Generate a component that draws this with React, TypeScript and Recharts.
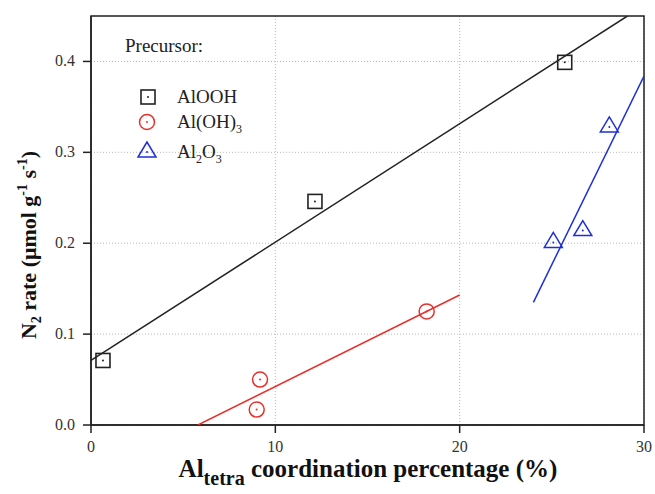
import React from "react";
import {
  ComposedChart,
  Scatter,
  XAxis,
  YAxis,
  CartesianGrid,
  ReferenceArea,
  Customized,
} from "recharts";

// Measured points per precursor
const aloohPoints = [
  { x: 0.65, y: 0.071 },
  { x: 12.15, y: 0.246 },
  { x: 25.7, y: 0.399 },
];
const aloh3Points = [
  { x: 8.99, y: 0.017 },
  { x: 9.17, y: 0.05 },
  { x: 18.21, y: 0.125 },
];
const al2o3Points = [
  { x: 25.08, y: 0.202 },
  { x: 26.68, y: 0.215 },
  { x: 28.12, y: 0.329 },
];

// Linear fits (end points)
const aloohFit = [
  { x: 0, y: 0.071 },
  { x: 29.1, y: 0.45 },
];
const aloh3Fit = [
  { x: 5.8, y: 0 },
  { x: 20, y: 0.143 },
];
const al2o3Fit = [
  { x: 24.0, y: 0.135 },
  { x: 30, y: 0.384 },
];

const xTicks = [0, 10, 20, 30];
const yTicks = [0, 0.1, 0.2, 0.3, 0.4];

const SERIF = "Liberation Serif, Times New Roman, serif";
const BLACK = "#222";
const RED = "#e8302a";
const BLUE = "#1f2fd6";

const SquareMark = (p: any) => (
  <g>
    <rect x={p.cx - 7} y={p.cy - 7} width={14} height={14} fill="none" stroke={BLACK} strokeWidth={1.6} />
    <circle cx={p.cx} cy={p.cy} r={1} fill={BLACK} />
  </g>
);
const CircleMark = (p: any) => (
  <g>
    <circle cx={p.cx} cy={p.cy} r={7.5} fill="none" stroke={RED} strokeWidth={1.5} />
    <circle cx={p.cx} cy={p.cy} r={1} fill={RED} />
  </g>
);
const TriangleMark = (p: any) => (
  <g>
    <polygon
      points={`${p.cx},${p.cy - 9} ${p.cx - 9},${p.cy + 6} ${p.cx + 9},${p.cy + 6}`}
      fill="none"
      stroke={BLUE}
      strokeWidth={1.5}
    />
    <circle cx={p.cx} cy={p.cy + 1} r={1} fill={BLUE} />
  </g>
);
const NoMark = () => <g />;

const XTick = (p: any) => (
  <text x={p.x} y={p.y + 11} textAnchor="middle" fontFamily={SERIF} fontSize={16} fill="#333">
    {p.payload.value}
  </text>
);
const YTick = (p: any) => (
  <text x={p.x} y={p.y + 5} textAnchor="end" fontFamily={SERIF} fontSize={16} fill="#333">
    {Number(p.payload.value).toFixed(1)}
  </text>
);

const Legend = () => (
  <g fontFamily={SERIF} fontSize={19} fill="#222">
    <text x={125} y={52}>Precursor:</text>
    <SquareMark cx={148} cy={97} />
    <text x={177} y={103}>AlOOH</text>
    <CircleMark cx={147} cy={122} />
    <text x={177} y={128}>
      Al(OH)<tspan fontSize={12} dy={5}>3</tspan>
    </text>
    <TriangleMark cx={147} cy={151} />
    <text x={177} y={158}>
      Al<tspan fontSize={12} dy={5}>2</tspan>
      <tspan dy={-5}>O</tspan>
      <tspan fontSize={12} dy={5}>3</tspan>
    </text>
  </g>
);

const YTitle = () => (
  <text
    transform="translate(36,245) rotate(-90)"
    textAnchor="middle"
    fontFamily={SERIF}
    fontWeight="bold"
    fontSize={22}
    fill="#111"
  >
    N<tspan fontSize={14} dy={5}>2</tspan>
    <tspan dy={-5}> rate (μmol g</tspan>
    <tspan fontSize={14} dy={-9}>-1</tspan>
    <tspan dy={9}> s</tspan>
    <tspan fontSize={14} dy={-9}>-1</tspan>
    <tspan dy={9}>)</tspan>
  </text>
);

const XTitle = () => (
  <text
    x={368}
    y={477}
    textAnchor="middle"
    fontFamily={SERIF}
    fontWeight="bold"
    fontSize={25}
    fill="#111"
  >
    Al<tspan fontSize={20} dy={8}>tetra</tspan>
    <tspan dy={-8}> coordination percentage (%)</tspan>
  </text>
);

export default function App() {
  return (
    <div style={{ position: "absolute", left: 0, top: 0, background: "#fff" }}>
      <ComposedChart
        width={655}
        height={494}
        margin={{ top: 16, right: 11, bottom: 0, left: 0 }}
      >
        <CartesianGrid stroke="#bbb" strokeDasharray="1 2" />
        <XAxis
          type="number"
          dataKey="x"
          domain={[0, 30]}
          ticks={xTicks}
          height={69}
          allowDataOverflow
          tickSize={8}
          tickLine={{ stroke: BLACK, strokeWidth: 1.5 }}
          axisLine={{ stroke: BLACK, strokeWidth: 1.5 }}
          tick={XTick}
          tickMargin={8}
        />
        <YAxis
          type="number"
          dataKey="y"
          domain={[0, 0.45]}
          ticks={yTicks}
          width={91}
          allowDataOverflow
          tickSize={8}
          tickLine={{ stroke: BLACK, strokeWidth: 1.5 }}
          axisLine={{ stroke: BLACK, strokeWidth: 1.5 }}
          tick={YTick}
          tickMargin={8}
        />
        <ReferenceArea x1={0} x2={30} y1={0} y2={0.45} fill="none" stroke={BLACK} strokeWidth={1.5} />
        <Scatter data={aloohFit} line={{ stroke: BLACK, strokeWidth: 1.5 }} shape={NoMark} isAnimationActive={false} />
        <Scatter data={aloh3Fit} line={{ stroke: RED, strokeWidth: 1.5 }} shape={NoMark} isAnimationActive={false} />
        <Scatter data={al2o3Fit} line={{ stroke: BLUE, strokeWidth: 1.5 }} shape={NoMark} isAnimationActive={false} />
        <Scatter data={aloohPoints} shape={SquareMark} isAnimationActive={false} />
        <Scatter data={aloh3Points} shape={CircleMark} isAnimationActive={false} />
        <Scatter data={al2o3Points} shape={TriangleMark} isAnimationActive={false} />
        <Customized component={Legend} />
        <Customized component={YTitle} />
        <Customized component={XTitle} />
      </ComposedChart>
    </div>
  );
}
